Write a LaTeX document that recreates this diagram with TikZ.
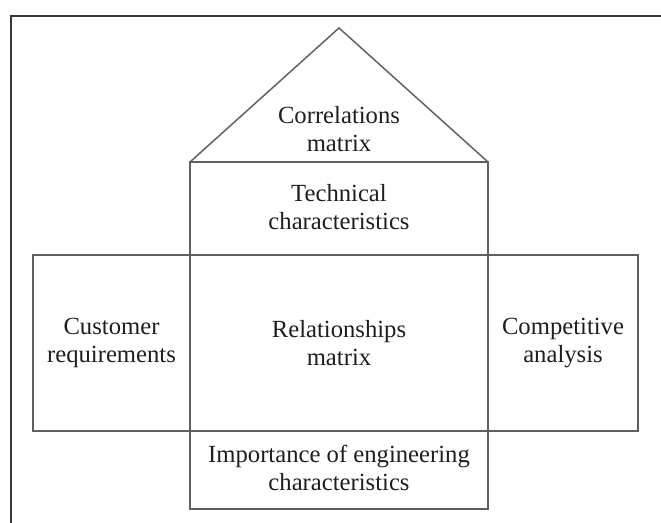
\documentclass[tikz,border=0pt]{standalone}
\usepackage{fontspec}
\setmainfont{Liberation Serif}
\usepackage{tikz}
\definecolor{lineColor}{RGB}{95,95,95}
\definecolor{frameColor}{RGB}{55,55,55}
\definecolor{textColor}{RGB}{30,30,30}
\tikzstyle{house} = [x = .75pt, y = -.75pt]
\tikzstyle{boxLine} = [color=lineColor, line width=1.1pt, line join=miter]
\tikzstyle{frameLine} = [color=frameColor, line width=1.8pt]
\tikzstyle{boxText} = [font=\fontsize{18.5}{21}\selectfont, align=center, text=textColor, inner sep=0pt]
\newcommand{\houseBox}[4]{\draw [boxLine] (#1,#2) rectangle (#3,#4);}

\begin{document}
\begin{tikzpicture}[house]
      \useasboundingbox (0,0) rectangle (661,523);
      \draw [frameLine] (11,530) -- (11,16) -- (670,16);

      % roof and centre column
      \draw [boxLine] (190,162) -- (339,28) -- (488,162);
      \houseBox{190}{162}{488}{255}
      \houseBox{33}{255}{638}{431}
      \houseBox{190}{255}{488}{431}
      \houseBox{190}{431}{488}{509}

      \node [boxText] (correlations) at (339,129) {Correlations\\matrix};
      \node [boxText] (technical) at (339,207) {Technical\\characteristics};
      \node [boxText] (customer) at (111.5,343) {Customer\\requirements};
      \node [boxText] (relationships) at (339,343) {Relationships\\matrix};
      \node [boxText] (competitive) at (563,343) {Competitive\\analysis};
      \node [boxText] (importance) at (339,468) {Importance of engineering\\characteristics};
    \end{tikzpicture}
\end{document}
